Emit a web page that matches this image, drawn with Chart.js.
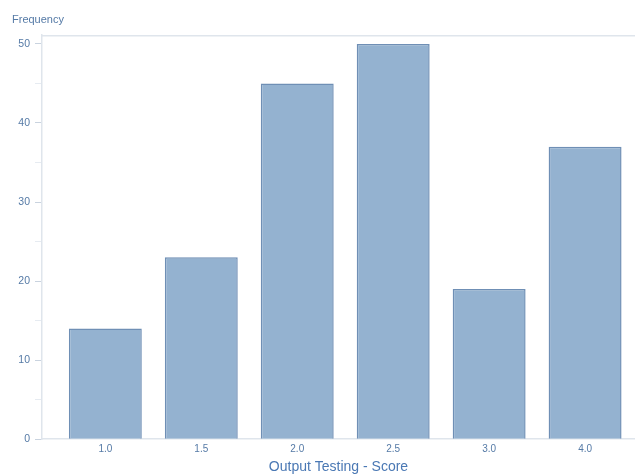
<!DOCTYPE html>
<html>
<head>
<meta charset="utf-8">
<script src="https://cdn.jsdelivr.net/npm/chart.js@4"></script>
<style>
  html, body { margin: 0; padding: 0; background: #fff; }
  #wrap { width: 635px; height: 476px; }
</style>
</head>
<body>
<div id="wrap"><canvas id="myChart"></canvas></div>
<script>
const scores = ['1.0', '1.5', '2.0', '2.5', '3.0', '4.0'];
const frequency = [14, 23, 45, 50, 19, 37];
const yTicks = [0, 10, 20, 30, 40, 50];

const textColor = '#557aa6';
const lineColor = '#dfe5ec';
const fontFamily = 'Liberation Sans, Arial, sans-serif';

// light frame line along the top of the plot
const topLine = {
    id: 'topLine',
    afterDraw(chart) {
        const { ctx, chartArea } = chart;
        ctx.save();
        ctx.strokeStyle = lineColor;
        ctx.lineWidth = 1.5;
        ctx.beginPath();
        ctx.moveTo(chartArea.left, chartArea.top + 0.5);
        ctx.lineTo(chartArea.right, chartArea.top + 0.5);
        ctx.stroke();
        ctx.restore();
    }
};

new Chart(document.getElementById('myChart').getContext('2d'), {
    type: 'bar',
    data: {
        datasets: [{
            label: 'Frequency',
            data: frequency.map((v, i) => ({ x: i, y: v })),
            backgroundColor: '#94b2d0',
            borderColor: '#6f8fb5',
            borderWidth: 1.5,
            categoryPercentage: 1,
            barPercentage: 0.76
        }]
    },
    plugins: [topLine],
    options: {
        responsive: true,
        maintainAspectRatio: false,
        animation: false,
        layout: { padding: { left: 12, right: 0, top: 0, bottom: 0 } },
        plugins: {
            legend: { display: false },
            tooltip: { enabled: false },
            title: {
                display: true,
                text: 'Frequency',
                align: 'start',
                color: textColor,
                font: { family: fontFamily, size: 11, weight: 'normal' },
                padding: { top: 13, bottom: 9 }
            }
        },
        scales: {
            x: {
                type: 'linear',
                offset: false,
                min: -0.66,
                max: 5.52,
                grid: { display: false, drawTicks: false, offset: false },
                border: { display: true, color: lineColor, width: 1.5 },
                ticks: {
                    stepSize: 1,
                    includeBounds: false,
                    padding: 4,
                    color: textColor,
                    font: { family: fontFamily, size: 10 },
                    callback: v => Number.isInteger(v) ? scores[v] : ''
                },
                title: {
                    display: true,
                    text: 'Output Testing - Score',
                    color: '#4a78b4',
                    font: { family: fontFamily, size: 14 },
                    padding: { top: 0, bottom: 0 }
                }
            },
            y: {
                min: 0,
                max: 51.1,
                afterFit: scale => { scale.width = 30; },
                grid: {
                    drawOnChartArea: false,
                    drawTicks: true,
                    tickLength: 7,
                    color: ctx => yTicks.includes(ctx.tick && ctx.tick.value) ? '#c9d3df' : '#e6ebf1'
                },
                border: { display: true, color: lineColor, width: 1.5 },
                ticks: {
                    stepSize: 5,
                    includeBounds: false,
                    padding: 5,
                    color: textColor,
                    font: { family: fontFamily, size: 10.5 },
                    callback: v => yTicks.includes(v) ? v : ''
                }
            }
        }
    }
});
</script>
</body>
</html>
